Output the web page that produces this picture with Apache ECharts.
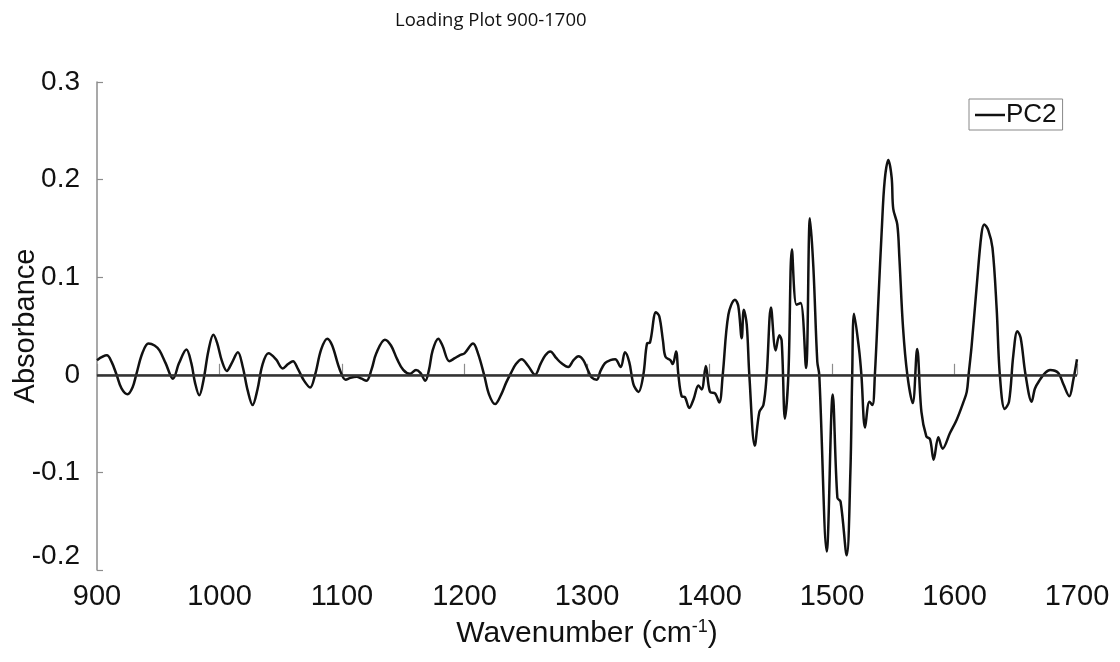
<!DOCTYPE html>
<html>
<head>
<meta charset="utf-8">
<script src="https://cdn.jsdelivr.net/npm/echarts@6/dist/echarts.min.js"></script>
<style>html,body{margin:0;padding:0;background:#fff;}#c{width:1120px;height:662px;}</style>
</head>
<body>
<div id="c"></div>
<script>
var wavenumbers = [900,908,912,916,920,925,929,932,937,942,947,951,956,962,967,973,977,980,983.5,987,991,995,998,1002,1006,1010,1015,1019,1023,1027,1031,1035,1040,1046,1051.6,1056,1060,1064,1069,1074,1078,1083,1088,1092,1098,1103,1107,1112,1116,1120,1124,1128,1135,1140,1145,1150,1155.5,1160.4,1164,1168,1171,1174,1178.6,1182,1187.6,1192,1196,1200,1207,1211,1216,1220,1225,1230,1234,1238,1242,1246.7,1252,1257.6,1262,1266,1270,1275,1279,1284.7,1289,1293,1297,1301,1304,1308,1311,1314.7,1319,1323,1327.5,1331,1334.5,1338,1342,1346,1349,1351.4,1356.3,1359,1362,1364,1368,1370,1372.7,1374.6,1377.3,1380,1383.5,1387,1391,1393.6,1397,1400.4,1404.5,1408,1410.8,1415.4,1420.8,1423.5,1426.3,1428,1430.4,1432.5,1437,1440.7,1444,1446.7,1450.2,1454,1457,1458.9,1461.6,1464.4,1467.3,1471,1474.4,1478.8,1482,1484.8,1488,1489.6,1495.7,1500.6,1504.4,1507,1512,1515,1516.5,1518,1522,1524,1527,1530.5,1533,1535,1538,1540.6,1543,1546,1548.7,1550,1553.3,1555,1558,1561.5,1565.9,1569.5,1573,1577,1580,1583,1586.8,1590.3,1596.3,1601.8,1607,1610,1611.5,1614,1618,1622,1624.3,1627.6,1631,1634.4,1637,1641,1644.5,1648,1651.3,1654,1658,1663,1665.7,1669.8,1674,1678,1684.7,1689,1693.7,1697,1700];
var pc2 = [0.015,0.020,0.013,0.000,-0.014,-0.020,-0.013,0.000,0.022,0.032,0.030,0.025,0.012,-0.004,0.012,0.026,0.012,-0.008,-0.021,-0.005,0.025,0.041,0.033,0.014,0.004,0.012,0.023,0.008,-0.016,-0.031,-0.015,0.010,0.022,0.016,0.0065,0.011,0.014,0.006,-0.006,-0.013,0.000,0.026,0.037,0.030,0.006,-0.005,-0.003,-0.002,-0.004,-0.006,0.005,0.022,0.036,0.030,0.016,0.005,0.001,0.005,0.002,-0.006,0.005,0.025,0.037,0.030,0.014,0.017,0.020,0.022,0.032,0.022,0.000,-0.020,-0.030,-0.020,-0.008,0.002,0.011,0.016,0.009,0.000,0.011,0.020,0.024,0.017,0.012,0.008,0.015,0.019,0.015,0.004,-0.003,-0.005,0.004,0.012,0.015,0.016,0.008,0.023,0.013,-0.010,-0.0175,0.000,0.032,0.033,0.064,0.060,0.035,0.0186,0.015,0.011,0.024,0.000,-0.022,-0.023,-0.034,-0.025,-0.011,-0.015,0.009,-0.0175,-0.019,-0.0285,0.000,0.0615,0.077,0.0705,0.0375,0.0667,0.0515,0.000,-0.0725,-0.038,-0.031,0.000,0.069,0.025,0.0405,0.035,-0.045,0.000,0.1285,0.0719,0.0735,0.0069,0.1605,0.110,0.0134,0.000,-0.181,-0.0203,-0.126,-0.130,-0.185,-0.100,0.000,0.0625,0.027,0.000,-0.054,-0.0275,-0.031,0.000,0.080,0.148,0.199,0.220,0.202,0.170,0.154,0.120,0.048,0.000,-0.029,0.0265,-0.038,-0.063,-0.066,-0.087,-0.064,-0.0757,-0.0597,-0.046,-0.029,-0.0175,0.000,0.030,0.089,0.144,0.154,0.148,0.130,0.068,0.000,-0.035,-0.0275,0.020,0.0447,0.038,0.000,-0.0275,-0.014,-0.005,0.002,0.005,0.002,-0.010,-0.022,-0.005,0.016];
var xTicks = [900,1000,1100,1200,1300,1400,1500,1600,1700];
var yTicks = [-0.2,-0.1,0,0.1,0.2,0.3];

var data = wavenumbers.map(function(w,i){return [w, pc2[i]];});
var chart = echarts.init(document.getElementById('c'), null, {renderer:'canvas'});
var font = '"Liberation Sans", Arial, sans-serif';
chart.setOption({
  animation: false,
  backgroundColor: '#fff',
  title: {
    text: 'Loading Plot 900-1700',
    left: 390, top: 6,
    textStyle: {fontFamily: '"Open Sans", sans-serif', fontSize: 18.5, fontWeight: 'normal', color: '#111'}
  },
  legend: {
    left: 969, top: 99,
    data: ['PC2'],
    icon: 'rect',
    itemWidth: 30, itemHeight: 2.5, itemGap: 4,
    padding: [3, 6, 2, 6],
    borderColor: '#888', borderWidth: 1,
    textStyle: {fontFamily: font, fontSize: 26, color: '#111', padding: [0,0,0,-4]}
  },
  grid: {left: 97, right: 43, top: 82, bottom: 92, outerBoundsMode: 'none', containLabel: false},
  xAxis: {
    type: 'value', min: xTicks[0], max: xTicks[xTicks.length-1], interval: 100,
    name: 'Wavenumber (cm{sup|-1})',
    nameLocation: 'middle', nameGap: 48,
    nameTextStyle: {fontFamily: font, fontSize: 30, color: '#111',
      rich: {sup: {fontFamily: font, fontSize: 18, color: '#111', verticalAlign: 'top', padding: [0,0,14,0]}}},
    axisLine: {lineStyle: {color: '#8c8c8c', width: 1.5}},
    axisTick: {inside: true, length: 11, lineStyle: {color: '#8c8c8c', width: 1.2}},
    axisLabel: {fontFamily: font, fontSize: 29, color: '#111', margin: 12,
      formatter: function(v){ return String(v); }},
    splitLine: {show: false}
  },
  yAxis: {
    type: 'value', min: yTicks[0], max: yTicks[yTicks.length-1], interval: 0.1,
    name: 'Absorbance', nameLocation: 'middle', nameGap: 57, nameMoveOverlap: false,
    nameTextStyle: {fontFamily: font, fontSize: 29, color: '#111'},
    axisLine: {show: true, lineStyle: {color: '#8c8c8c', width: 1.5}},
    axisTick: {inside: true, length: 6, lineStyle: {color: '#8c8c8c', width: 1.2}},
    axisLabel: {fontFamily: font, fontSize: 28, color: '#111', margin: 17,
      formatter: function(v){
        if (Math.abs(v) < 1e-9) return '0';
        var s = v.toFixed(1);
        if (Math.abs(v - yTicks[0]) < 1e-9) return '{lo|' + s + '}';
        return s;
      },
      rich: {lo: {fontFamily: font, fontSize: 28, color: '#111', padding: [0,0,28,0]}}
    },
    splitLine: {show: false}
  },
  series: [{
    name: 'PC2', type: 'line', data: data,
    symbol: 'none', showSymbol: false, smooth: 0.35,
    lineStyle: {color: '#111', width: 2.5},
    itemStyle: {color: '#111'},
    markLine: {
      silent: true, symbol: 'none', label: {show: false},
      lineStyle: {color: '#333', width: 2.5, type: 'solid'},
      data: [{yAxis: 0}]
    }
  }]
});
</script>
</body>
</html>
